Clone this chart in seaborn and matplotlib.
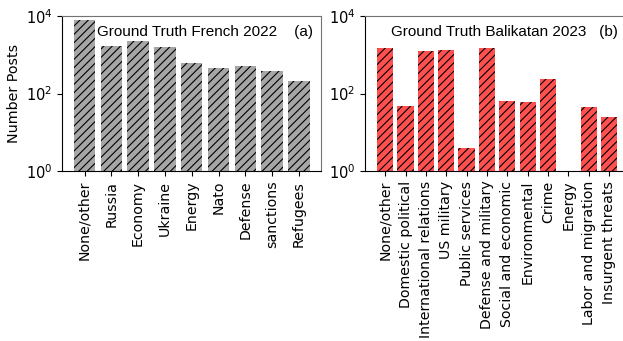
import matplotlib
matplotlib.use("Agg")
import matplotlib.pyplot as plt
import seaborn as sns
import pandas as pd

sns.set_style("ticks")
plt.rcParams["font.family"] = ["DejaVu Sans"]
plt.rcParams["hatch.linewidth"] = 0.8
plt.rcParams.update({
    "text.color": "black", "axes.labelcolor": "black",
    "xtick.color": "black", "ytick.color": "black", "axes.edgecolor": "black",
})

# French 2022 ground-truth topic counts
french_topics = ["None/other", "Russia", "Economy", "Ukraine", "Energy",
                 "Nato", "Defense", "sanctions", "Refugees"]
french_counts = [7800, 1660, 2240, 1570, 610, 452, 508, 378, 209]

# Balikatan 2023 ground-truth topic counts
balikatan_topics = ["None/other", "Domestic political", "International relations",
                    "US military", "Public services", "Defense and military",
                    "Social and economic", "Environmental", "Crime", "Energy",
                    "Labor and migration", "Insurgent threats"]
balikatan_counts = [1540, 47, 1240, 1310, 4, 1480, 65, 61, 235, 0, 45, 25]

panels = [
    (french_topics, french_counts, "#a6a6a6", "Ground Truth French 2022    (a)"),
    (balikatan_topics, balikatan_counts, "#ff5050", "Ground Truth Balikatan 2023   (b)"),
]

fig = plt.figure(figsize=(6.23, 3.41), dpi=100)
axes = [fig.add_axes([0.0995, 0.4985, 0.4165, 0.4545]),
        fig.add_axes([0.586, 0.4985, 0.424, 0.4545])]

for ax, (topics, counts, color, label) in zip(axes, panels):
    df = pd.DataFrame({"topic": topics, "count": counts})
    sns.barplot(data=df, x="topic", y="count", color=color, saturation=1,
                width=0.8, edgecolor="black", linewidth=0, hatch="////", ax=ax)
    ax.set_yscale("log")
    ax.set_ylim(1, 1e4)
    ax.set_yticks([1, 1e2, 1e4])
    ax.set_yticklabels([r"$10^0$", r"$10^2$", r"$10^4$"])
    ax.minorticks_off()
    n = len(topics)
    pad = 0.05 * (n - 1 + 0.8)
    ax.set_xlim(-0.4 - pad, n - 1 + 0.4 + pad)
    ax.tick_params(axis="x", labelrotation=90, labelsize=10.2)
    ax.tick_params(axis="y", labelsize=10.5)
    ax.set_xlabel("")
    ax.set_ylabel("")
    for side in ("top", "right"):
        ax.spines[side].set_visible(True)
        ax.spines[side].set_color("0.45")
    ax.text(0.969 if ax is axes[0] else 0.958, 0.895, label, transform=ax.transAxes,
            ha="right", va="center", fontsize=11,
            family=["Liberation Sans", "DejaVu Sans"])

axes[0].set_ylabel("Number Posts", fontsize=10.3, labelpad=3)

fig.savefig("out.png", dpi=100)
